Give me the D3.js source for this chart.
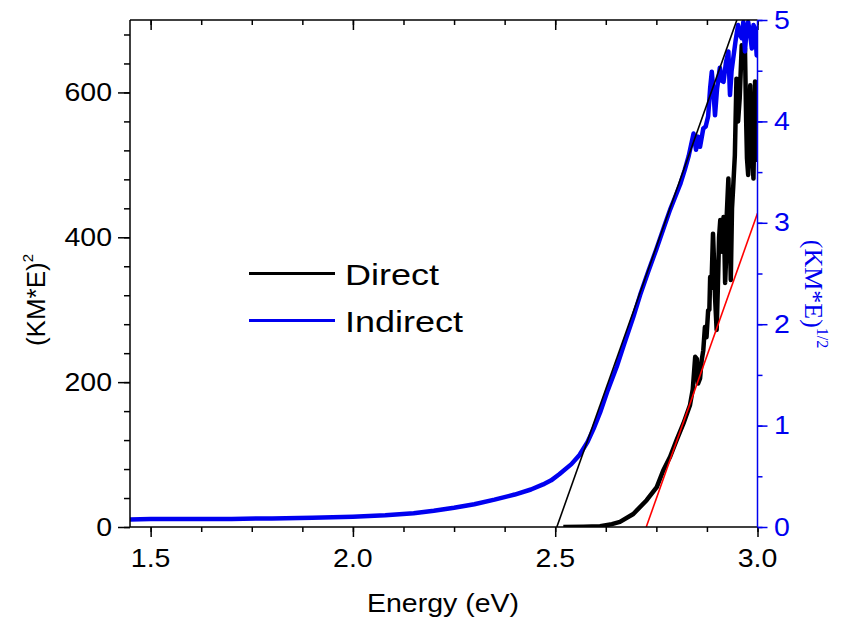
<!DOCTYPE html>
<html>
<head>
<meta charset="utf-8">
<script src="https://cdn.jsdelivr.net/npm/d3@7"></script>
<style>
  body { margin: 0; background: #fff; }
  text { font-family: "Liberation Sans", Arial, sans-serif; }
</style>
</head>
<body>
<svg id="chart" width="844" height="623"></svg>
<script>
// Direct: (KM*E)^2, left axis
var directE = [2.52, 2.57, 2.611, 2.64, 2.66, 2.693, 2.726, 2.751, 2.767, 2.784, 2.8, 2.817, 2.833,
  2.84, 2.846, 2.85, 2.853, 2.858, 2.862, 2.866, 2.87, 2.874, 2.878, 2.881, 2.883, 2.886, 2.89, 2.893,
  2.895, 2.899, 2.902, 2.905, 2.908, 2.912, 2.916, 2.918, 2.92, 2.923, 2.924, 2.928, 2.931, 2.934,
  2.937, 2.94, 2.944, 2.948, 2.952, 2.956, 2.961, 2.965, 2.969, 2.972, 2.974, 2.977, 2.98, 2.982,
  2.986, 2.99, 2.994, 2.996, 2.998];
var directKM2 = [0, 0.3, 1, 4, 7, 18, 37, 55, 78, 97, 120, 143, 168,
  190, 235, 232, 198, 205, 230, 244, 276, 262, 299, 300, 345, 330, 405, 360,
  318, 272, 330, 400, 424, 380, 428, 395, 337, 380, 431, 481, 420, 341,
  440, 470, 513, 619, 560, 592, 665, 640, 661, 560, 509, 486, 560, 610,
  523, 481, 615, 560, 504];

// Indirect: (KM*E)^1/2, right axis
var indirectE = [1.449, 1.5, 1.6, 1.7, 1.8, 1.9, 2.0, 2.08, 2.15, 2.2, 2.25, 2.3, 2.35, 2.4, 2.44,
  2.47, 2.49, 2.51, 2.54, 2.56, 2.58, 2.595, 2.611, 2.63, 2.652, 2.67, 2.693, 2.71, 2.73, 2.75, 2.77,
  2.784, 2.795, 2.809, 2.82, 2.83, 2.842, 2.848, 2.853, 2.858, 2.866, 2.872, 2.878, 2.883, 2.887,
  2.891, 2.895, 2.9, 2.907, 2.912, 2.916, 2.922, 2.928, 2.932, 2.936, 2.94, 2.946, 2.952, 2.957,
  2.961, 2.965, 2.969, 2.973, 2.977, 2.982, 2.986, 2.99, 2.994, 2.998, 3.0];
var indirectKM12 = [0.075, 0.08, 0.078, 0.08, 0.085, 0.09, 0.1, 0.115, 0.135, 0.16, 0.19, 0.225, 0.27, 0.32, 0.37,
  0.42, 0.46, 0.52, 0.62, 0.71, 0.84, 0.97, 1.13, 1.35, 1.58, 1.8, 2.07, 2.29, 2.52, 2.74, 2.97,
  3.13, 3.24, 3.38, 3.52, 3.66, 3.88, 3.72, 3.85, 3.75, 3.93, 3.95, 4.05, 4.33, 4.49,
  4.3, 4.06, 4.32, 4.53, 4.4, 4.39, 4.58, 4.69, 4.26, 4.5, 4.62, 4.8, 4.95, 4.85,
  4.82, 4.98, 4.69, 4.9, 4.98, 4.85, 4.72, 4.95, 4.92, 4.65, 4.8];

// linear fits
var indirectFitE = [2.504, 2.949];
var indirectFitV = [0, 5];
var directFitE = [2.725, 3.0];
var directFitV = [0, 433];

var xMajor = [1.5, 2.0, 2.5, 3.0];
var leftMajor = [0, 200, 400, 600];
var rightMajor = [0, 1, 2, 3, 4, 5];

var legendNames = ["Direct", "Indirect"];
var legendColors = ["#000000", "#0000f0"];

var blue = "#0000f0";
var sx = 1.14; // horizontal text stretch seen in the reference

var svg = d3.select("#chart");
var m = { l: 130, r: 757.5, t: 20, b: 527 };

var x = d3.scaleLinear().domain([1.449, 3.0]).range([m.l, m.r]);
var yL = d3.scaleLinear().domain([0, 700]).range([m.b, m.t]);
var yR = d3.scaleLinear().domain([0, 5]).range([m.b, m.t]);

var stretch = function(sel, k) {
  sel.each(function() {
    var w = this.getComputedTextLength();
    d3.select(this).attr("textLength", w * k).attr("lengthAdjust", "spacingAndGlyphs");
  });
};

var range = function(a, b, s) {
  var out = [];
  for (var v = a; v <= b + 1e-9; v += s) out.push(+v.toFixed(4));
  return out;
};

svg.append("defs").append("clipPath").attr("id", "plot")
  .append("rect").attr("x", m.l).attr("y", m.t).attr("width", m.r - m.l).attr("height", m.b - m.t);

// axes
var styleAxis = function(g, color) {
  g.select(".domain").remove();
  g.selectAll("line").attr("stroke", color).attr("stroke-width", 1.5);
  g.selectAll("text").remove();
};

svg.append("g").attr("transform", "translate(0," + m.b + ")")
  .call(d3.axisBottom(x).tickValues(range(1.5, 3.0, 0.125)).tickSize(5)).call(styleAxis, "#000");
svg.append("g").attr("transform", "translate(0," + m.b + ")")
  .call(d3.axisBottom(x).tickValues(xMajor).tickSize(10)).call(styleAxis, "#000");
svg.append("g").attr("transform", "translate(0," + m.t + ")")
  .call(d3.axisBottom(x).tickValues(range(1.5, 3.0, 0.125)).tickSize(5)).call(styleAxis, "#000");
svg.append("g").attr("transform", "translate(0," + m.t + ")")
  .call(d3.axisBottom(x).tickValues(xMajor).tickSize(10)).call(styleAxis, "#000");

svg.append("g").attr("transform", "translate(" + m.l + ",0)")
  .call(d3.axisLeft(yL).tickValues(range(0, 700, 40)).tickSize(6)).call(styleAxis, "#000");
svg.append("g").attr("transform", "translate(" + m.l + ",0)")
  .call(d3.axisLeft(yL).tickValues(leftMajor).tickSize(12)).call(styleAxis, "#000");

svg.append("g").attr("transform", "translate(" + m.r + ",0)")
  .call(d3.axisRight(yR).tickValues(range(0, 5, 0.5)).tickSize(5)).call(styleAxis, blue);
svg.append("g").attr("transform", "translate(" + m.r + ",0)")
  .call(d3.axisRight(yR).tickValues(rightMajor).tickSize(10)).call(styleAxis, blue);

// tick labels
svg.append("g").selectAll("text").data(xMajor).enter().append("text")
  .attr("x", function(d) { return x(d); }).attr("y", 567)
  .attr("text-anchor", "middle").attr("font-size", 25)
  .text(function(d) { return d.toFixed(1); }).call(stretch, sx);

svg.append("g").selectAll("text").data(leftMajor).enter().append("text")
  .attr("x", 112).attr("y", function(d) { return yL(d) + 8.5; })
  .attr("text-anchor", "end").attr("font-size", 25)
  .text(function(d) { return d; }).call(stretch, sx);

svg.append("g").selectAll("text").data(rightMajor).enter().append("text")
  .attr("x", 774).attr("y", function(d) { return yR(d) + 8.5; })
  .attr("font-size", 25).attr("fill", blue)
  .text(function(d) { return d; }).call(stretch, sx);

// data
var lineL = d3.line().x(function(d) { return x(d[0]); }).y(function(d) { return yL(d[1]); });
var lineR = d3.line().x(function(d) { return x(d[0]); }).y(function(d) { return yR(d[1]); });

var plot = svg.append("g").attr("clip-path", "url(#plot)");

plot.append("path").datum(d3.zip(directE, directKM2))
  .attr("d", lineL).attr("fill", "none").attr("stroke", "#000").attr("stroke-width", 4.5)
  .attr("stroke-linejoin", "round");

plot.append("path").datum(d3.zip(indirectE, indirectKM12))
  .attr("d", lineR).attr("fill", "none").attr("stroke", blue).attr("stroke-width", 4.5)
  .attr("stroke-linejoin", "round");

plot.append("path").datum(d3.zip(indirectFitE, indirectFitV))
  .attr("d", lineR).attr("fill", "none").attr("stroke", "#000").attr("stroke-width", 1.6);

plot.append("path").datum(d3.zip(directFitE, directFitV))
  .attr("d", lineL).attr("fill", "none").attr("stroke", "#ff0000").attr("stroke-width", 1.6);

// frame
svg.append("line").attr("x1", m.l).attr("x2", m.r).attr("y1", m.t).attr("y2", m.t).attr("stroke", "#000").attr("stroke-width", 1.5);
svg.append("line").attr("x1", m.l).attr("x2", m.r).attr("y1", m.b).attr("y2", m.b).attr("stroke", "#000").attr("stroke-width", 1.5);
svg.append("line").attr("x1", m.l).attr("x2", m.l).attr("y1", m.t).attr("y2", m.b).attr("stroke", "#000").attr("stroke-width", 1.5);
svg.append("line").attr("x1", m.r).attr("x2", m.r).attr("y1", m.t).attr("y2", m.b).attr("stroke", blue).attr("stroke-width", 1.5);

// axis titles
svg.append("text").attr("x", 443).attr("y", 612).attr("text-anchor", "middle")
  .attr("font-size", 25).text("Energy (eV)").call(stretch, sx);

var lt = svg.append("text").attr("transform", "translate(45,300) rotate(-90)")
  .attr("text-anchor", "middle").attr("font-size", 26);
lt.append("tspan").text("(KM*E)");
lt.append("tspan").attr("font-size", 15).attr("dy", -12).text("2");

var rt = svg.append("text").attr("transform", "translate(805,294) rotate(90)")
  .attr("text-anchor", "middle").attr("font-size", 26).attr("fill", blue)
  .style("font-family", "'Liberation Serif', 'Times New Roman', serif");
rt.append("tspan").text("(KM*E)");
rt.append("tspan").attr("font-size", 16).attr("dy", -12).text("1/2");

// legend
var leg = svg.append("g").selectAll("g").data(legendNames).enter().append("g")
  .attr("transform", function(d, i) { return "translate(0," + (273.5 + i * 47) + ")"; });
leg.append("line").attr("x1", 249).attr("x2", 335)
  .attr("stroke", function(d, i) { return legendColors[i]; }).attr("stroke-width", 3);
leg.append("text").attr("x", 345).attr("y", 11).attr("font-size", 30)
  .text(function(d) { return d; }).call(stretch, 1.2);
</script>
</body>
</html>
